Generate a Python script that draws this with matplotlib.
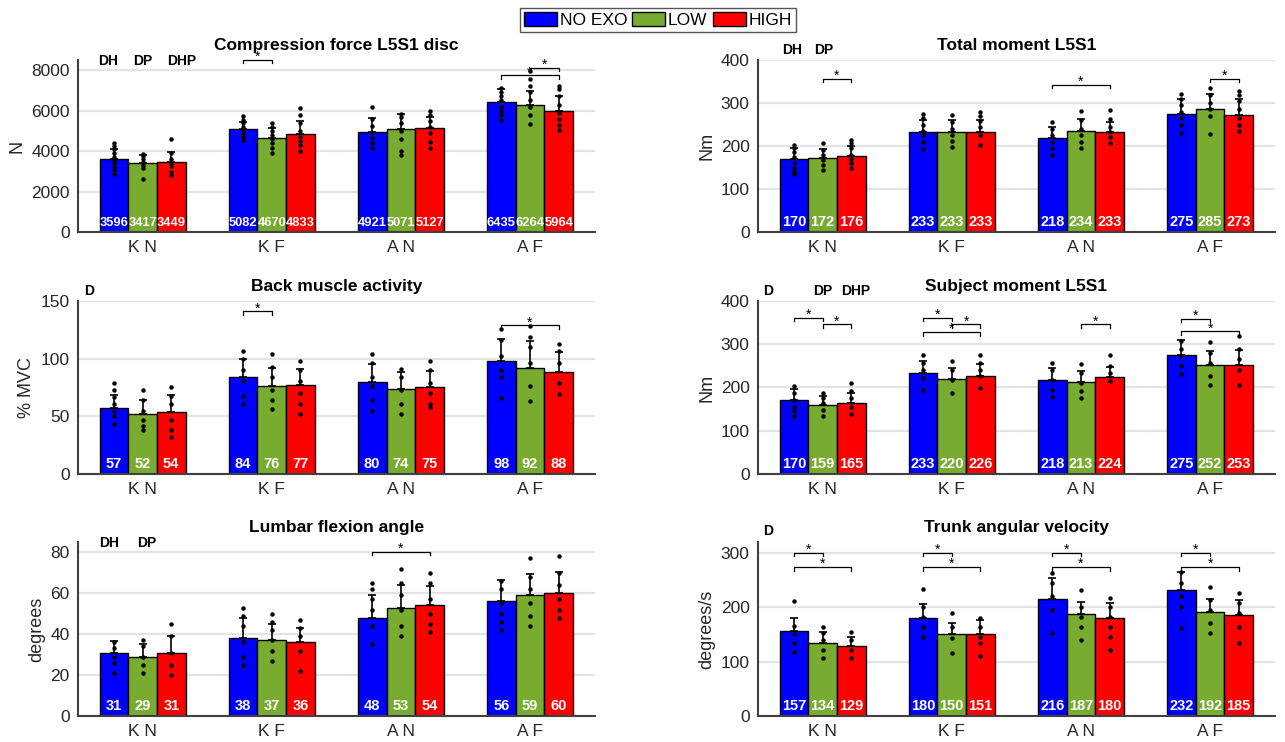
import matplotlib
matplotlib.use("Agg")
import matplotlib.pyplot as plt
from matplotlib.patches import Patch
import numpy as np

plt.rcParams['font.family'] = ['Liberation Sans', 'DejaVu Sans']

# categories / conditions
groups = ['K N', 'K F', 'A N', 'A F']
conditions = ['NO EXO', 'LOW', 'HIGH']
colors = ['#0000ff', '#77ac30', '#ff0000']

# ---- Compression force L5S1 disc (per condition, per group) ----
compression_mean = [[3596, 5082, 4921, 6435], [3417, 4670, 5071, 6264], [3449, 4833, 5127, 5964]]
compression_sd = [[500, 370, 690, 655], [390, 490, 740, 715], [520, 670, 570, 765]]
compression_dots = [
    [[4420, 4250, 4100, 3900, 3700, 3550, 3400, 3200, 3050, 2860], [5730, 5550, 5400, 5200, 5050, 4900, 4700, 4550],
     [6190, 5600, 5250, 4900, 4650, 4400, 4150], [7100, 6900, 6700, 6500, 6200, 6000, 5800, 5550]],
    [[3860, 3750, 3600, 3450, 3300, 3150, 2600], [5370, 5200, 5000, 4800, 4600, 4400, 4150, 3900],
     [5830, 5700, 5400, 5000, 4600, 4000, 3800], [7960, 7540, 7200, 6900, 6500, 6200, 5800, 5350]],
    [[4580, 3900, 3600, 3350, 3250, 2950, 2800], [6140, 5780, 5400, 5000, 4700, 4500, 4300, 4000],
     [5980, 5780, 5500, 5200, 4900, 4450, 4150], [7220, 7050, 6700, 6300, 5900, 5600, 5300, 5050]],
]
compression_sig = [(1, 0, 1, 8500), (3, 0, 2, 7750), (3, 1, 2, 8110)]  # group, cond a, cond b, y
compression_tags = [('DH', 0.73, 0.995), ('DP', 1.0, 0.995), ('DHP', 1.30, 0.995)]

# ---- Total moment L5S1 ----
total_mean = [[170, 233, 218, 275], [172, 233, 234, 285], [176, 233, 233, 273]]
total_sd = [[25, 28, 27, 34], [21, 28, 29, 35], [24, 28, 24, 36]]
total_dots = [
    [[203, 195, 185, 175, 160, 150, 140, 135], [275, 265, 250, 235, 225, 210, 193],
     [255, 240, 225, 210, 195, 178], [322, 310, 295, 280, 265, 250, 230]],
    [[206, 190, 180, 168, 155, 145], [272, 255, 240, 225, 212, 198],
     [282, 260, 240, 225, 210, 196], [336, 318, 300, 285, 270, 228]],
    [[215, 208, 195, 180, 170, 160, 150], [278, 270, 258, 245, 225, 202],
     [283, 262, 245, 232, 220, 207], [329, 318, 305, 285, 265, 250, 236]],
]
total_sig = [(0, 1, 2, 357), (2, 0, 2, 342), (3, 1, 2, 357)]
total_tags = [('DH', 0.76, 1.058), ('DP', 1.01, 1.058)]

# ---- Back muscle activity ----
back_mean = [[57, 84, 80, 98], [52, 76, 74, 92], [54, 77, 75, 88]]
back_sd = [[11.5, 16, 15, 19], [12, 16, 14, 23], [14.5, 14, 14, 18]]
back_dots = [
    [[79, 73, 67, 61, 55, 50, 43], [107, 100, 90, 81, 68, 61], [104, 96, 84, 76, 64, 55], [126, 116, 102, 90, 84, 66]],
    [[73, 64, 55, 47, 42, 38], [104, 93, 84, 73, 64, 56], [91, 84, 73, 61, 52], [128, 119, 110, 96, 76, 63]],
    [[75, 68, 61, 47, 38, 32], [98, 90, 81, 70, 61, 52], [98, 90, 79, 70, 61, 58], [113, 107, 96, 79, 69]],
]
back_sig = [(1, 0, 1, 141), (3, 0, 2, 129)]
back_tags = [('D', 0.59, 1.06)]

# ---- Subject moment L5S1 ----
subject_mean = [[170, 233, 218, 275], [159, 220, 213, 252], [165, 226, 224, 253]]
subject_sd = [[26.5, 28, 27, 34], [22, 25, 24.5, 32], [22, 28.5, 23.5, 33]]
subject_dots = [
    [[204, 187, 172, 156, 145, 133], [276, 257, 241, 222, 195], [257, 241, 218, 195, 179], [307, 288, 272, 249, 232]],
    [[187, 176, 164, 149, 133], [261, 241, 218, 187], [254, 234, 210, 191, 176], [305, 280, 257, 226, 206]],
    [[210, 191, 176, 156, 139], [276, 257, 241, 226, 199], [276, 249, 234, 214], [318, 288, 265, 241, 206]],
]
subject_sig = [(0, 0, 1, 361), (0, 1, 2, 346), (1, 0, 1, 361), (1, 1, 2, 346), (1, 0, 2, 328),
               (2, 1, 2, 346), (3, 0, 1, 359), (3, 0, 2, 330)]
subject_tags = [('D', 0.58, 1.06), ('DP', 1.0, 1.06), ('DHP', 1.26, 1.06)]

# ---- Lumbar flexion angle ----
lumbar_mean = [[31, 38, 48, 56], [29, 37, 53, 59], [31, 36, 54, 60]]
lumbar_sd = [[5.5, 10, 11, 10.4], [6, 8, 11, 10.6], [8, 7, 9.5, 10.5]]
lumbar_dots = [
    [[36, 33, 29, 26, 21], [53, 49, 44, 36, 29, 25], [65, 62, 57, 52, 44, 35], [66, 62, 55, 50, 46, 42]],
    [[37, 34, 29, 25, 21], [50, 46, 42, 37, 32, 27], [72, 65, 59, 52, 44, 39], [77, 68, 62, 55, 49, 44]],
    [[45, 39, 31, 25, 20], [47, 43, 39, 32, 22], [70, 65, 57, 50, 45, 41], [78, 70, 64, 57, 52, 48]],
]
lumbar_sig = [(2, 0, 2, 80.3)]
lumbar_tags = [('DH', 0.74, 0.995), ('DP', 1.03, 0.995)]

# ---- Trunk angular velocity ----
trunk_mean = [[157, 180, 216, 232], [134, 150, 187, 192], [129, 151, 180, 185]]
trunk_sd = [[23, 26, 38, 33], [20, 21, 22, 23], [16, 26, 28, 29]]
trunk_dots = [
    [[211, 165, 150, 135, 118], [233, 200, 183, 164, 146], [263, 245, 220, 195, 152], [264, 245, 220, 201, 161]],
    [[164, 152, 140, 121, 106], [190, 164, 143, 115], [232, 201, 183, 164, 140], [237, 214, 195, 171, 152]],
    [[155, 140, 121, 106], [180, 164, 146, 134, 111], [217, 201, 183, 164, 146, 122], [226, 208, 189, 164, 135]],
]
trunk_sig = [(0, 0, 1, 300), (0, 0, 2, 274), (1, 0, 1, 300), (1, 0, 2, 274),
             (2, 0, 1, 300), (2, 0, 2, 274), (3, 0, 1, 300), (3, 0, 2, 274)]
trunk_tags = [('D', 0.58, 1.065)]

bw = 0.2222
offsets = [-bw, 0.0, bw]


def draw_panel(ax, title, ylabel, ylim, yticks, mean, sd, dots, sig, tags, label_size=10.5):
    x = np.arange(1, len(groups) + 1)
    for c in range(3):
        xc = x + offsets[c]
        ax.bar(xc, mean[c], width=bw, color=colors[c], edgecolor='black', linewidth=1, zorder=2)
        ax.errorbar(xc, mean[c], yerr=[np.zeros(4), sd[c]], fmt='none', ecolor='black',
                    elinewidth=1.2, capsize=3, capthick=1.2, zorder=3)
        for g in range(4):
            d = dots[c][g]
            ax.plot([xc[g]] * len(d), d, 'o', color='black', markersize=2.2, zorder=4)
            ax.annotate(str(mean[c][g]), xy=(xc[g], 0), xytext=(0, 2.5), textcoords='offset points',
                        ha='center', va='bottom', color='white', fontsize=label_size,
                        fontweight='bold', zorder=5)
    rng = ylim[1] - ylim[0]
    t = rng * 0.02
    for g, a, b, y in sig:
        x1, x2 = x[g] + offsets[a], x[g] + offsets[b]
        ax.plot([x1, x1, x2, x2], [y - t, y, y, y - t], color='black', lw=0.9, clip_on=False, zorder=5)
        ax.annotate('*', xy=((x1 + x2) / 2, y), xytext=(0, -3), textcoords='offset points',
                    ha='center', va='bottom', fontsize=10, annotation_clip=False)
    for txt, tx, ty in tags:
        ax.text(tx, ty, txt, transform=ax.get_xaxis_transform(), ha='center', va='center',
                fontsize=10, fontweight='bold')
    ax.set_xlim(0.5, 4.5)
    ax.set_ylim(*ylim)
    ax.set_yticks(yticks)
    ax.set_xticks(x)
    ax.set_xticklabels(groups)
    ax.set_ylabel(ylabel, fontsize=13, color='#262626')
    ax.set_title(title, fontsize=12.5, fontweight='bold', pad=7)
    ax.grid(axis='y', color='#e3e3e3', lw=1.5, zorder=0)
    ax.set_axisbelow(True)
    for s in ['top', 'right']:
        ax.spines[s].set_visible(False)
    for s in ['left', 'bottom']:
        ax.spines[s].set_color('#404040')
        ax.spines[s].set_linewidth(1.5)
    ax.tick_params(length=0, labelsize=12.5, labelcolor='#262626', pad=6)


fig = plt.figure(figsize=(12.85, 7.42), dpi=100)
lx, rx, w = 0.0607, 0.5899, 0.4020
ax1 = fig.add_axes([lx, 0.6873, w, 0.2318])
ax2 = fig.add_axes([rx, 0.6873, w, 0.2318])
ax3 = fig.add_axes([lx, 0.3612, w, 0.2332])
ax4 = fig.add_axes([rx, 0.3612, w, 0.2332])
ax5 = fig.add_axes([lx, 0.0350, w, 0.2345])
ax6 = fig.add_axes([rx, 0.0350, w, 0.2345])

draw_panel(ax1, 'Compression force L5S1 disc', 'N', (0, 8500), [0, 2000, 4000, 6000, 8000],
           compression_mean, compression_sd, compression_dots, compression_sig, compression_tags, label_size=9.3)
draw_panel(ax2, 'Total moment L5S1', 'Nm', (0, 400), [0, 100, 200, 300, 400],
           total_mean, total_sd, total_dots, total_sig, total_tags)
draw_panel(ax3, 'Back muscle activity', '% MVC', (0, 150), [0, 50, 100, 150],
           back_mean, back_sd, back_dots, back_sig, back_tags)
draw_panel(ax4, 'Subject moment L5S1', 'Nm', (0, 400), [0, 100, 200, 300, 400],
           subject_mean, subject_sd, subject_dots, subject_sig, subject_tags)
draw_panel(ax5, 'Lumbar flexion angle', 'degrees', (0, 85), [0, 20, 40, 60, 80],
           lumbar_mean, lumbar_sd, lumbar_dots, lumbar_sig, lumbar_tags)
draw_panel(ax6, 'Trunk angular velocity', 'degrees/s', (0, 320), [0, 100, 200, 300],
           trunk_mean, trunk_sd, trunk_dots, trunk_sig, trunk_tags)

handles = [Patch(facecolor=colors[i], edgecolor='black', label=conditions[i]) for i in range(3)]
leg = fig.legend(handles=handles, loc='center', bbox_to_anchor=(0.512, 0.973), ncol=3, fontsize=12.5,
                 frameon=True, fancybox=False, edgecolor='#555555', framealpha=1,
                 handlelength=1.9, handleheight=0.9, handletextpad=0.15, columnspacing=0.3,
                 borderpad=0.25, borderaxespad=0)
leg.get_frame().set_linewidth(1.0)

fig.savefig('out.png', dpi=100)
